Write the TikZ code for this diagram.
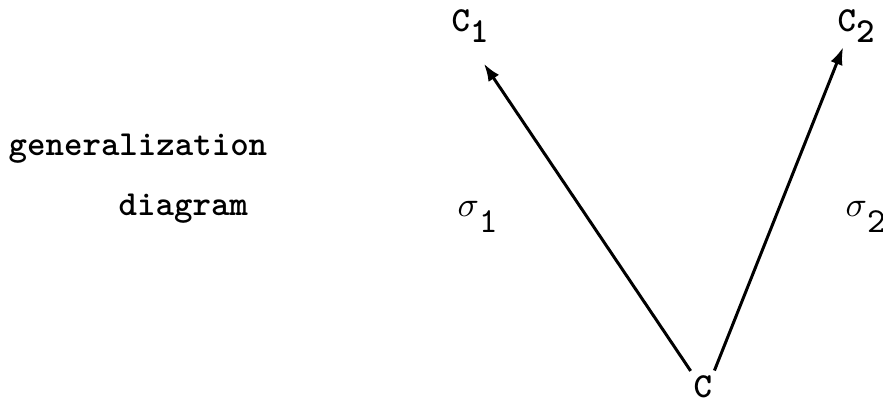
\documentclass[tikz,border=0pt]{standalone}
\usepackage{amsmath}
\usepackage{tikz}
\usetikzlibrary{arrows.meta,calc}
\newcommand{\lowsub}[2][0.3em]{\raisebox{-#1}{#2}}

\begin{document}
\begin{tikzpicture}[>=Latex,x=0.01cm,y=-0.01cm,
    lbl/.style={inner sep=0pt,anchor=base west,font=\ttfamily\bfseries},
    conn/.style={->,line width=0.85pt,shorten <=1.2pt}]
  \useasboundingbox (0,0) rectangle (883,401);
  % caption on the left
  \node[lbl] (gen) at (8,156) {generalization};
  \node[lbl] (diag) at (118,216) {diagram};
  % the three clauses
  \node[lbl] (C1) at (451,32) {C\lowsub{1}};
  \node[lbl] (C2) at (837,32) {C\lowsub{2}};
  \node[lbl] (C) at (693,397) {C};
  % substitutions
  \node[lbl,font=\ttfamily] (s1) at (457,217) {$\sigma$\lowsub[0.45em]{1}};
  \node[lbl,font=\ttfamily] (s2) at (845,217) {$\sigma$\lowsub[0.45em]{2}};
  \draw[conn,-{Latex[length=5pt,width=3.6pt]},shorten >=7pt] (C.north west) -- (C1.south);
  \draw[conn,-{Latex[length=5pt,width=3.6pt]},shorten >=1.2pt] (C.north east) -- ($(C2.south west)!0.2!(C2.south east)$);
\end{tikzpicture}
\end{document}
